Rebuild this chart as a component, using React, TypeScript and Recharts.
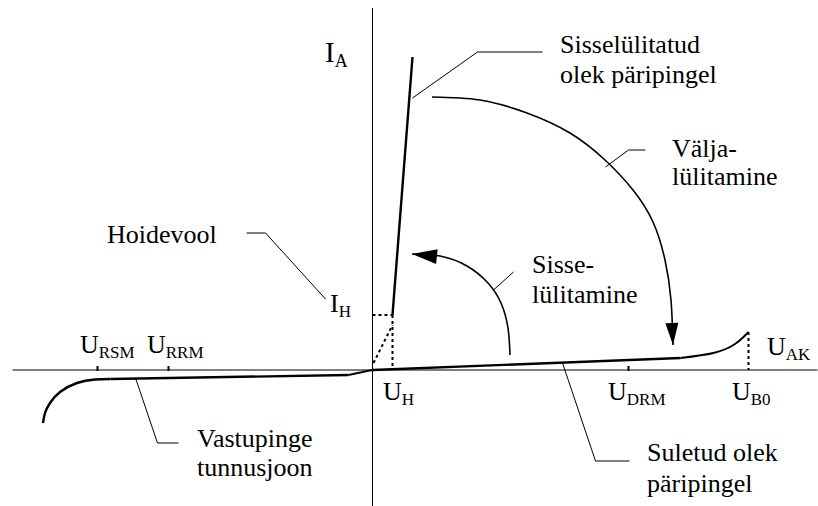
import { ComposedChart, Line, Scatter, XAxis, YAxis, ReferenceLine } from "recharts";

// x: U_AK, y: I_A (arbitrary units, origin at the axis crossing)
const onState = [
  { x: 20, y: 55 },
  { x: 40, y: 313 },
];
const forwardBlocking = [
  { x: 0, y: 0 },
  { x: 308, y: 12 },
];
const breakover = [
  { x: 308, y: 12 },
  { x: 341, y: 17 },
  { x: 361, y: 25 },
  { x: 371, y: 33 },
  { x: 376, y: 38 },
];
const reverseKnee = [
  { x: -24, y: -5 },
  { x: -10, y: -2 },
  { x: 0, y: 0 },
];
const reverseBlocking = [
  { x: -262, y: -9 },
  { x: -24, y: -5 },
];
const reverseBreakdown = [
  { x: -329.5, y: -53 },
  { x: -327.5, y: -43 },
  { x: -322.5, y: -33 },
  { x: -312.5, y: -22 },
  { x: -295.5, y: -13 },
  { x: -277.5, y: -9.5 },
  { x: -262, y: -9 },
];
const turnOffArc = [
  { x: 59.5, y: 273 },
  { x: 107.5, y: 270 },
  { x: 154.5, y: 257 },
  { x: 197.5, y: 237 },
  { x: 232.5, y: 210 },
  { x: 260.5, y: 180 },
  { x: 280.5, y: 148 },
  { x: 292.5, y: 110 },
  { x: 298.5, y: 70 },
  { x: 300.5, y: 25 },
];
const turnOnArc = [
  { x: 39.5, y: 116 },
  { x: 67.5, y: 114 },
  { x: 94.5, y: 104 },
  { x: 115.5, y: 87 },
  { x: 128.5, y: 67 },
  { x: 135.5, y: 42 },
  { x: 137.5, y: 15 },
];

// dotted helper lines
const holdingLevel = [
  { x: 0, y: 55 },
  { x: 20, y: 55 },
];
const holdingDrop = [
  { x: 20, y: 55 },
  { x: 20, y: 0 },
];
const holdingSlope = [
  { x: 1, y: 7 },
  { x: 20, y: 45 },
];
const breakoverDrop = [
  { x: 376, y: 38 },
  { x: 376, y: 0 },
];

// leader lines from labels to curves
const leaders = [
  [{ x: 40, y: 272 }, { x: 105, y: 318 }, { x: 170, y: 318 }],
  [{ x: 233, y: 203 }, { x: 256, y: 220 }, { x: 273, y: 220 }],
  [{ x: 121, y: 80 }, { x: 141, y: 98 }],
  [{ x: -126, y: 137 }, { x: -107, y: 137 }, { x: -47, y: 71 }],
  [{ x: -237, y: -8 }, { x: -215, y: -73 }, { x: -194, y: -73 }],
  [{ x: 190, y: 7 }, { x: 223, y: -91 }, { x: 257, y: -91 }],
];

const axisTicks = [-275, -204, 256];

const labels = [
  { x: -47.5, y: 308, text: "I", sub: "A", big: true },
  { x: 394.5, y: 15, text: "U", sub: "AK" },
  { x: 187.5, y: 317, text: "Sisselülitatud" },
  { x: 187.5, y: 287, text: "olek päripingel" },
  { x: 299.5, y: 213, text: "Välja-" },
  { x: 299.5, y: 185, text: "lülitamine" },
  { x: 159.5, y: 97, text: "Sisse-" },
  { x: 159.5, y: 67, text: "lülitamine" },
  { x: -265.5, y: 127, text: "Hoidevool" },
  { x: -42.5, y: 58, text: "I", sub: "H" },
  { x: -292.5, y: 17, text: "U", sub: "RSM" },
  { x: -225.5, y: 17, text: "U", sub: "RRM" },
  { x: 10.5, y: -30, text: "U", sub: "H" },
  { x: 235.5, y: -30, text: "U", sub: "DRM" },
  { x: 359.5, y: -30, text: "U", sub: "B0" },
  { x: -175.5, y: -77, text: "Vastupinge" },
  { x: -175.5, y: -106, text: "tunnusjoon" },
  { x: 274.5, y: -91, text: "Suletud olek" },
  { x: 274.5, y: -122, text: "päripingel" },
];

const FONT = "'Liberation Serif', 'Times New Roman', serif";

const arrowDot = (at: number, angle: number, len: number, wid: number) => (props: any) => {
  const { cx, cy, index } = props;
  if (index !== at || cx == null || cy == null) return <g key={`d${index}`} />;
  const a = (angle * Math.PI) / 180;
  const dx = Math.cos(a);
  const dy = Math.sin(a);
  const bx = cx - dx * len;
  const by = cy - dy * len;
  const nx = (-dy * wid) / 2;
  const ny = (dx * wid) / 2;
  return (
    <polygon
      key={`d${index}`}
      points={`${cx},${cy} ${bx + nx},${by + ny} ${bx - nx},${by - ny}`}
      fill="#000"
    />
  );
};

const LabelShape = (props: any) => {
  const { cx, cy, payload } = props;
  return (
    <text x={cx} y={cy} fontFamily={FONT} fontSize={payload.big ? 29 : 26} fill="#000">
      {payload.text}
      {payload.sub && (
        <tspan fontSize={payload.big ? 18 : 17} dy={5}>
          {payload.sub}
        </tspan>
      )}
    </text>
  );
};

export default function App() {
  const curve = { stroke: "#000", dot: false, activeDot: false, isAnimationActive: false } as const;
  return (
    <div style={{ position: "absolute", left: 0, top: 0, background: "#fff" }}>
      <ComposedChart width={818} height={506} margin={{ top: 0, right: 0, bottom: 0, left: 0 }}>
        <XAxis type="number" dataKey="x" domain={[-372.5, 445.5]} allowDataOverflow hide />
        <YAxis type="number" dataKey="y" domain={[-136, 370]} allowDataOverflow hide />

        <ReferenceLine
          segment={[{ x: -360, y: 0 }, { x: 445, y: 0 }]}
          stroke="#000"
          strokeWidth={1}
          ifOverflow="visible"
        />
        <ReferenceLine
          segment={[{ x: 0, y: 362 }, { x: 0, y: -136 }]}
          stroke="#000"
          strokeWidth={1}
          ifOverflow="visible"
        />
        {axisTicks.map((t) => (
          <ReferenceLine
            key={t}
            segment={[{ x: t, y: -1 }, { x: t, y: 4 }]}
            stroke="#000"
            strokeWidth={2}
            ifOverflow="visible"
          />
        ))}

        {[holdingLevel, holdingDrop, holdingSlope, breakoverDrop].map((d, i) => (
          <Line
            key={`dot${i}`}
            data={d}
            dataKey="y"
            type="linear"
            strokeWidth={2}
            strokeDasharray="3 3"
            {...curve}
          />
        ))}

        {leaders.map((d, i) => (
          <Line key={`lead${i}`} data={d} dataKey="y" type="linear" strokeWidth={1} {...curve} />
        ))}

        <Line data={onState} dataKey="y" type="linear" strokeWidth={2.4} {...curve} />
        <Line data={forwardBlocking} dataKey="y" type="linear" strokeWidth={2.4} {...curve} />
        <Line data={breakover} dataKey="y" type="natural" strokeWidth={2} {...curve} />
        <Line data={reverseKnee} dataKey="y" type="natural" strokeWidth={2} {...curve} />
        <Line data={reverseBlocking} dataKey="y" type="linear" strokeWidth={2.4} {...curve} />
        <Line data={reverseBreakdown} dataKey="y" type="natural" strokeWidth={2.4} {...curve} />

        <Line
          data={turnOffArc}
          dataKey="y"
          type="natural"
          stroke="#000"
          strokeWidth={1.6}
          activeDot={false}
          isAnimationActive={false}
          dot={arrowDot(turnOffArc.length - 1, 87, 22, 13)}
        />
        <Line
          data={turnOnArc}
          dataKey="y"
          type="natural"
          stroke="#000"
          strokeWidth={1.6}
          activeDot={false}
          isAnimationActive={false}
          dot={arrowDot(0, 186, 25, 15)}
        />

        <Scatter data={labels} dataKey="y" shape={LabelShape} isAnimationActive={false} />
      </ComposedChart>
    </div>
  );
}
